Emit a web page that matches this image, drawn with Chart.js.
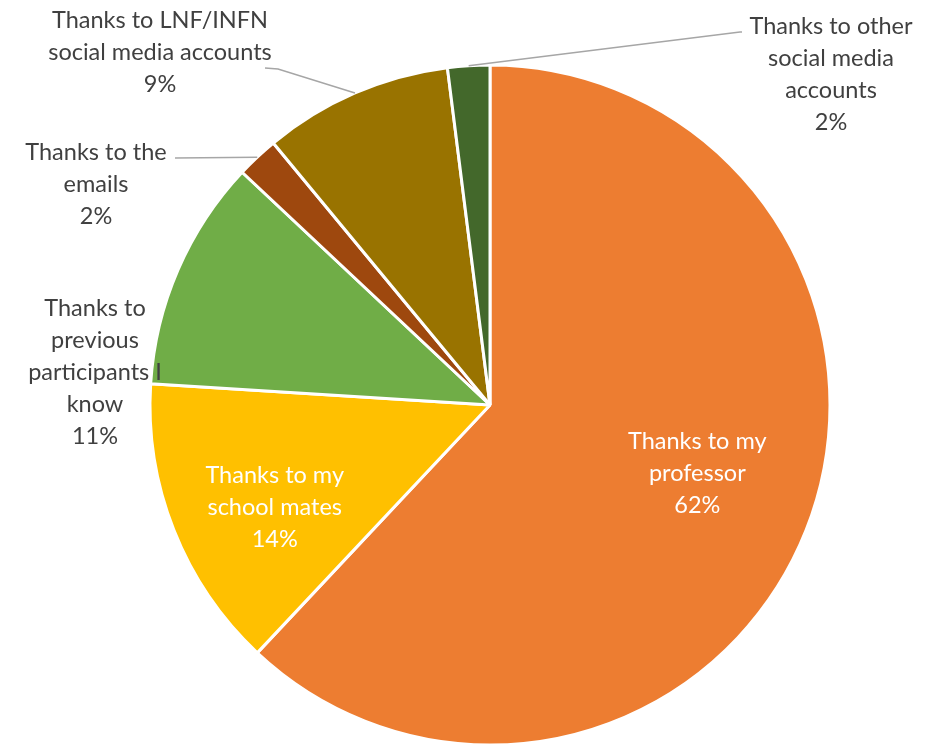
<!DOCTYPE html>
<html>
<head>
<meta charset="utf-8">
<script src="https://cdn.jsdelivr.net/npm/chart.js@4.4.0/dist/chart.umd.min.js"></script>
<style>
  html, body { margin: 0; padding: 0; background: #fff; }
  #wrap { width: 941px; height: 744px; }
</style>
</head>
<body>
<div id="wrap"><canvas id="pie"></canvas></div>
<script>
const labels = [
  'Thanks to my professor',
  'Thanks to my school mates',
  'Thanks to previous participants I know',
  'Thanks to the emails',
  'Thanks to LNF/INFN social media accounts',
  'Thanks to other social media accounts'
];
const shares = [62, 14, 11, 2, 9, 2];
const colors = ['#ED7D31', '#FFC000', '#70AD47', '#9E480E', '#997300', '#43682B'];

// how each label is wrapped, as drawn
const labelLines = [
  ['Thanks to my', 'professor'],
  ['Thanks to my', 'school mates'],
  ['Thanks to', 'previous', 'participants I', 'know'],
  ['Thanks to the', 'emails'],
  ['Thanks to LNF/INFN', 'social media accounts'],
  ['Thanks to other', 'social media', 'accounts']
];

// inside labels sit along the mid angle (plus a nudge); outside ones get a text block and a leader
const labelLayout = [
  { inside: true, frac: 0.64, nudge: [5, -12] },
  { inside: true, frac: 0.70, nudge: [6, 15] },
  { inside: false, x: 95, y: 308 },
  { inside: false, x: 96, y: 152, elbow: [175, 158], end: [175, 158] },
  { inside: false, x: 160, y: 20, elbow: [278, 69], end: [265, 68] },
  { inside: false, x: 831, y: 26, elbow: [740, 32], end: [742, 32] }
];

const FONT = '23.5px Lato, "Open Sans", sans-serif';
const LINE = 32;

const pieLabels = {
  id: 'pieLabels',
  afterDatasetsDraw(chart) {
    const ctx = chart.ctx;
    const meta = chart.getDatasetMeta(0);
    ctx.save();
    ctx.font = FONT;
    ctx.textAlign = 'center';
    ctx.textBaseline = 'middle';
    meta.data.forEach((arc, i) => {
      const lay = labelLayout[i];
      const lines = labelLines[i].concat([shares[i] + '%']);
      const mid = (arc.startAngle + arc.endAngle) / 2;
      if (lay.inside) {
        const r = arc.outerRadius * lay.frac;
        const cx = arc.x + Math.cos(mid) * r + lay.nudge[0];
        const cy = arc.y + Math.sin(mid) * r + lay.nudge[1];
        ctx.fillStyle = '#ffffff';
        const top = cy - (lines.length - 1) * LINE / 2;
        lines.forEach((t, k) => ctx.fillText(t, cx, top + k * LINE));
        return;
      }
      if (lay.elbow) {
        const sx = arc.x + Math.cos(mid) * arc.outerRadius;
        const sy = arc.y + Math.sin(mid) * arc.outerRadius;
        ctx.strokeStyle = '#A6A6A6';
        ctx.lineWidth = 1.5;
        ctx.beginPath();
        ctx.moveTo(sx, sy);
        ctx.lineTo(lay.elbow[0], lay.elbow[1]);
        ctx.lineTo(lay.end[0], lay.end[1]);
        ctx.stroke();
      }
      ctx.fillStyle = '#404040';
      lines.forEach((t, k) => ctx.fillText(t, lay.x, lay.y + k * LINE));
    });
    ctx.restore();
  }
};

new Chart(document.getElementById('pie'), {
  type: 'pie',
  data: {
    labels,
    datasets: [{
      data: shares,
      backgroundColor: colors,
      borderColor: '#ffffff',
      borderWidth: 3,
      radius: 340
    }]
  },
  options: {
    responsive: true,
    maintainAspectRatio: false,
    animation: false,
    layout: { padding: { left: 150, right: 111, top: 66, bottom: 0 } },
    plugins: {
      legend: { display: false },
      tooltip: { enabled: false }
    }
  },
  plugins: [pieLabels]
});
</script>
</body>
</html>
